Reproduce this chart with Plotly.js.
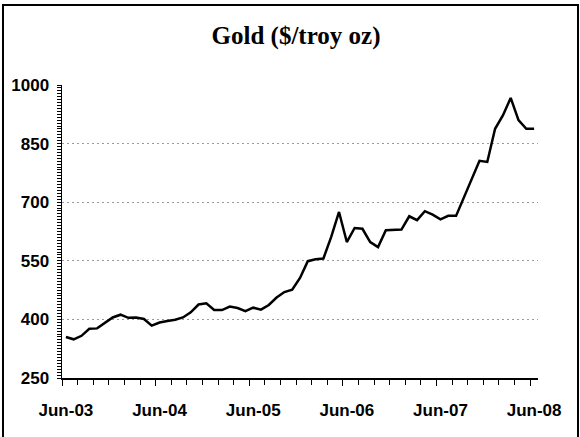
<!DOCTYPE html>
<html>
<head>
<meta charset="utf-8">
<script src="https://cdn.plot.ly/plotly-3.0.1.min.js"></script>
<style>
  html, body { margin: 0; padding: 0; background: #fff; }
  #chart { width: 580px; height: 437px; }
</style>
</head>
<body>
<div id="chart"></div>
<script>
// Monthly categories, Jun-03 .. Jun-08
var months = [
  "Jun-03","Jul-03","Aug-03","Sep-03","Oct-03","Nov-03","Dec-03",
  "Jan-04","Feb-04","Mar-04","Apr-04","May-04","Jun-04","Jul-04","Aug-04","Sep-04","Oct-04","Nov-04","Dec-04",
  "Jan-05","Feb-05","Mar-05","Apr-05","May-05","Jun-05","Jul-05","Aug-05","Sep-05","Oct-05","Nov-05","Dec-05",
  "Jan-06","Feb-06","Mar-06","Apr-06","May-06","Jun-06","Jul-06","Aug-06","Sep-06","Oct-06","Nov-06","Dec-06",
  "Jan-07","Feb-07","Mar-07","Apr-07","May-07","Jun-07","Jul-07","Aug-07","Sep-07","Oct-07","Nov-07","Dec-07",
  "Jan-08","Feb-08","Mar-08","Apr-08","May-08","Jun-08"
];
// Gold price, $/troy oz
var gold = [
  355, 349, 358, 376, 377, 390, 405,
  412, 404, 405, 401, 384, 392, 396, 399, 405, 418, 438, 441,
  424, 424, 433, 429, 421, 430, 425, 437, 456, 470, 476, 506,
  549, 554, 556, 611, 675, 598, 634, 632, 598, 585, 628, 629,
  630, 664, 654, 677, 668, 656, 665, 665, 713, 758, 806, 803,
  888, 922, 967, 910, 888, 888
];
var xLabels = ["Jun-03", "Jun-04", "Jun-05", "Jun-06", "Jun-07", "Jun-08"];
var yTicks = [250, 400, 550, 700, 850, 1000];

var idx = months.map(function (m, i) { return i; });
var labelPos = xLabels.map(function (l) { return months.indexOf(l); });
var yearBounds = labelPos.map(function (p) { return p - 0.5; });

var fontTick = { family: "'Liberation Sans', Arial, sans-serif", size: 17, color: "#000", weight: "bold" };

var traces = [
  {
    x: idx, y: gold, text: months, type: "scatter", mode: "lines",
    line: { color: "#000", width: 2.5 },
    hovertemplate: "%{text}: %{y}<extra></extra>", xaxis: "x", yaxis: "y"
  },
  { x: [], y: [], type: "scatter", mode: "lines", xaxis: "x2", yaxis: "y", showlegend: false, hoverinfo: "skip" }
];

var W = 476, H = 293, L = 62, T = 85;
function px2paperX(p) { return (p - L) / W; }
function px2paperY(p) { return (T + H - p) / H; }

var layout = {
  width: 580, height: 437,
  margin: { l: L, r: 580 - L - W, t: T, b: 437 - T - H, pad: 0 },
  paper_bgcolor: "#fff", plot_bgcolor: "#fff",
  showlegend: false,
  title: {
    text: "Gold ($/troy oz)",
    font: { family: "Liberation Serif, Times New Roman, serif", size: 25, color: "#000", weight: "bold" },
    xref: "container", yref: "container", x: 296 / 580, xanchor: "center",
    y: 1 - 35 / 437, yanchor: "middle"
  },
  xaxis: {
    range: [-0.5, 60.5], showgrid: false, zeroline: false,
    showline: true, linecolor: "#000", linewidth: 1.5,
    tickmode: "array", tickvals: labelPos, ticktext: xLabels,
    ticks: "", tickfont: fontTick,
    ticklabelstandoff: 16,
    minor: { tick0: -0.5, dtick: 2, ticks: "outside", ticklen: 5, tickwidth: 1, tickcolor: "#000", showgrid: false }
  },
  xaxis2: {
    overlaying: "x", anchor: "y", side: "bottom", matches: "x",
    range: [-0.5, 60.5], showgrid: false, zeroline: false, showline: false,
    tickmode: "array", tickvals: yearBounds, showticklabels: false,
    ticks: "outside", ticklen: 7, tickwidth: 1, tickcolor: "#000"
  },
  yaxis: {
    range: [250, 1000], zeroline: false,
    showline: true, linecolor: "#000", linewidth: 1.5,
    tickmode: "array", tickvals: yTicks,
    ticks: "outside", ticklen: 4, tickwidth: 1, tickcolor: "#000",
    tickfont: fontTick,
    ticklabelstandoff: 4,
    showgrid: true, gridcolor: "#9a9a9a", gridwidth: 1, griddash: "2px,3px",
    minor: { tick0: 250, dtick: 7.5, ticks: "outside", ticklen: 4, tickwidth: 1, tickcolor: "#000", showgrid: false }
  },
  shapes: [
    {
      type: "rect", xref: "paper", yref: "paper",
      x0: px2paperX(3), x1: px2paperX(578), y0: px2paperY(442), y1: px2paperY(5),
      line: { color: "#000", width: 2 }, fillcolor: "rgba(0,0,0,0)", layer: "below"
    }
  ]
};

Plotly.newPlot("chart", traces, layout, { displayModeBar: false, staticPlot: true });
</script>
</body>
</html>
